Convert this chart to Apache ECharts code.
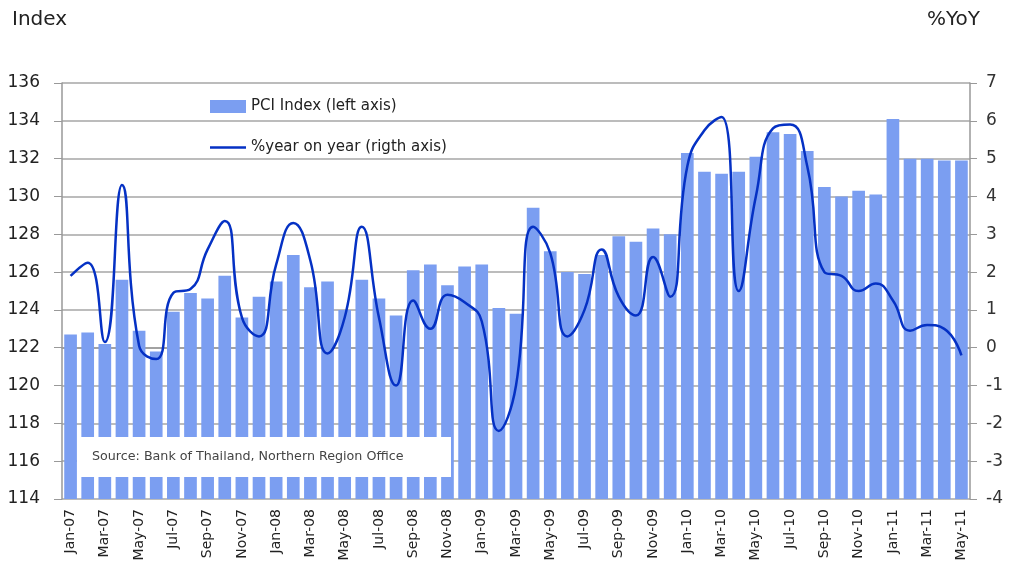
<!DOCTYPE html>
<html>
<head>
<meta charset="utf-8">
<script src="https://cdn.jsdelivr.net/npm/echarts@6/dist/echarts.min.js"></script>
<style>
  html, body { margin: 0; padding: 0; background: #fff; }
  #chart { width: 1023px; height: 579px; }
</style>
</head>
<body>
<div id="chart"></div>
<script>
// months Jan-07 .. May-11
const months = [
  'Jan-07','Feb-07','Mar-07','Apr-07','May-07','Jun-07','Jul-07','Aug-07','Sep-07','Oct-07','Nov-07','Dec-07',
  'Jan-08','Feb-08','Mar-08','Apr-08','May-08','Jun-08','Jul-08','Aug-08','Sep-08','Oct-08','Nov-08','Dec-08',
  'Jan-09','Feb-09','Mar-09','Apr-09','May-09','Jun-09','Jul-09','Aug-09','Sep-09','Oct-09','Nov-09','Dec-09',
  'Jan-10','Feb-10','Mar-10','Apr-10','May-10','Jun-10','Jul-10','Aug-10','Sep-10','Oct-10','Nov-10','Dec-10',
  'Jan-11','Feb-11','Mar-11','Apr-11','May-11'
];

// PCI index (left axis)
const pciIndex = [
  122.7, 122.8, 122.2, 125.6, 122.9, 121.8, 123.9, 124.9, 124.6, 125.8, 123.6, 124.7,
  125.5, 126.9, 125.2, 125.5, 124.0, 125.6, 124.6, 123.7, 126.1, 126.4, 125.3, 126.3,
  126.4, 124.1, 123.8, 129.4, 127.1, 126.0, 125.9, 126.9, 127.9, 127.6, 128.3, 128.0,
  132.3, 131.3, 131.2, 131.3, 132.1, 133.4, 133.3, 132.4, 130.5, 130.0, 130.3, 130.1,
  134.1, 132.0, 132.0, 131.9, 131.9
];

// % year on year (right axis)
const yoyPct = [
  1.9, 2.25, 0.15, 4.3, 0.05, -0.3, 1.45, 1.55, 2.6, 3.35, 0.8, 0.3,
  2.2, 3.3, 2.3, -0.15, 0.8, 3.2, 0.8, -1.0, 1.25, 0.5, 1.4, 1.2,
  0.7, -2.2, -1.0, 3.2, 2.5, 0.3, 1.0, 2.6, 1.35, 0.85, 2.4, 1.35,
  4.8, 5.75, 6.1, 1.5, 4.0, 5.8, 5.9, 4.8, 2.0, 1.9, 1.5, 1.7,
  1.25, 0.45, 0.6, 0.5, -0.2
];

const FONT = 'DejaVu Sans';
const LINE_BLUE = '#0531c4';
const chart = echarts.init(document.getElementById('chart'));

chart.setOption({
  animation: false,
  textStyle: { fontFamily: FONT },
  grid: { left: 62, right: 53, top: 83, bottom: 80 },
  legend: {
    orient: 'vertical',
    left: 205,
    top: 94,
    itemWidth: 36,
    itemHeight: 13,
    itemGap: 26,
    textStyle: { fontSize: 15, color: '#222', fontFamily: FONT },
    data: [
      { name: 'PCI Index (left axis)', icon: 'rect' },
      // plain line, no marker
      { name: '%year on year (rigth axis)', icon: 'path://M0,0H36V2.5H0Z', itemStyle: { color: LINE_BLUE } }
    ]
  },
  graphic: [
    { type: 'text', left: 12, top: 10, z: 100, style: { text: 'Index', fontSize: 20, fill: '#222', fontFamily: FONT } },
    { type: 'text', left: 927, top: 10, z: 100, style: { text: '%YoY', fontSize: 20, fill: '#222', fontFamily: FONT } },
    { type: 'rect', z: 100, shape: { x: 77, y: 437, width: 374, height: 40 }, style: { fill: '#fff' } },
    { type: 'text', z: 101, x: 92, y: 457, style: { text: 'Source: Bank of Thailand, Northern Region Office', fontSize: 12.7, fill: '#444', fontFamily: FONT, verticalAlign: 'middle' } }
  ],
  xAxis: {
    type: 'category',
    data: months,
    boundaryGap: true,
    axisLine: { lineStyle: { color: '#999', width: 1.5 } },
    axisTick: { interval: 1, length: 6, lineStyle: { color: '#999' } },
    axisLabel: { interval: 1, rotate: 90, fontSize: 14, color: '#222', margin: 10 }
  },
  yAxis: [
    {
      type: 'value', min: 114, max: 136, interval: 2,
      axisLine: { show: true, lineStyle: { color: '#999', width: 1.5 } },
      axisTick: { show: true, length: 8, lineStyle: { color: '#999' } },
      axisLabel: { fontSize: 17, color: '#222', margin: 22 },
      splitLine: { show: true, lineStyle: { color: '#a6a6a6', width: 1.5 } }
    },
    {
      type: 'value', min: -4, max: 7, interval: 1, position: 'right',
      axisLine: { show: true, lineStyle: { color: '#999', width: 1.5 } },
      axisTick: { show: true, length: 7, lineStyle: { color: '#999' } },
      axisLabel: { fontSize: 17, color: '#333', margin: 16 },
      splitLine: { show: false }
    }
  ],
  series: [
    {
      name: 'PCI Index (left axis)',
      type: 'bar',
      yAxisIndex: 0,
      data: pciIndex,
      barCategoryGap: '26%',
      itemStyle: { color: '#7b9ef1' }
    },
    {
      name: '%year on year (rigth axis)',
      type: 'line',
      yAxisIndex: 1,
      data: yoyPct,
      smooth: 0.5,
      symbol: 'none',
      z: 10,
      lineStyle: { color: LINE_BLUE, width: 2.5 },
      itemStyle: { color: LINE_BLUE }
    }
  ]
});
</script>
</body>
</html>
